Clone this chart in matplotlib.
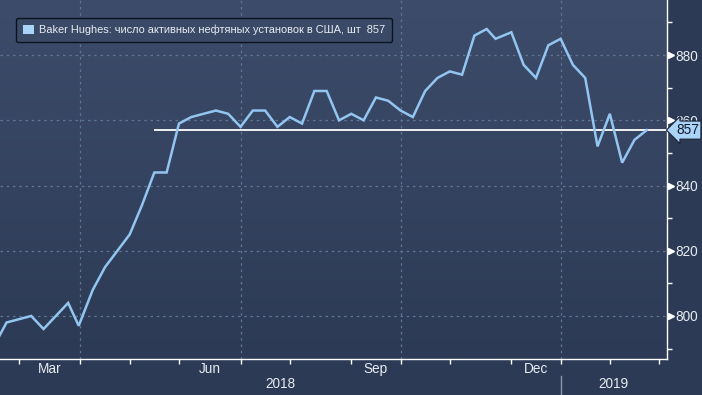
import matplotlib
matplotlib.use("Agg")
import matplotlib.pyplot as plt
import matplotlib.dates as mdates
import matplotlib.transforms as mtrans
from matplotlib.patches import Patch
from matplotlib.colors import LinearSegmentedColormap
from matplotlib import font_manager
import numpy as np
import pandas as pd

# ---- data ----
dates = ["2018-02-09", "2018-02-16", "2018-02-23", "2018-03-02", "2018-03-09", "2018-03-16",
         "2018-03-23", "2018-03-29", "2018-04-06", "2018-04-13", "2018-04-20", "2018-04-27",
         "2018-05-04", "2018-05-11", "2018-05-18", "2018-05-25", "2018-06-01", "2018-06-08",
         "2018-06-15", "2018-06-22", "2018-06-29", "2018-07-06", "2018-07-13", "2018-07-20",
         "2018-07-27", "2018-08-03", "2018-08-10", "2018-08-17", "2018-08-24", "2018-08-31",
         "2018-09-07", "2018-09-14", "2018-09-21", "2018-09-28", "2018-10-05", "2018-10-12",
         "2018-10-19", "2018-10-26", "2018-11-02", "2018-11-09", "2018-11-16", "2018-11-21",
         "2018-11-30", "2018-12-07", "2018-12-14", "2018-12-21", "2018-12-28", "2019-01-04",
         "2019-01-11", "2019-01-18", "2019-01-25", "2019-02-01", "2019-02-08", "2019-02-15"]
rigs = [791, 798, 799, 800, 796, 800,
        804, 797, 808, 815, 820, 825,
        834, 844, 844, 859, 861, 862,
        863, 862, 858, 863, 863, 858,
        861, 859, 869, 869, 860, 862,
        860, 867, 866, 863, 861, 869,
        873, 875, 874, 886, 888, 885,
        887, 877, 873, 883, 885, 877,
        873, 852, 862, 847, 854, 857]
series_label = "Baker Hughes: число активных нефтяных установок в США, шт"
ref_line_start = "2018-05-11"
y_major = [800, 820, 840, 860, 880]
month_labels_shown = {3: "Mar", 6: "Jun", 9: "Sep", 12: "Dec"}

# ---- style ----
names = {f.name for f in font_manager.fontManager.ttflist}
narrow = "Liberation Sans Narrow" if "Liberation Sans Narrow" in names else "Liberation Sans"
plt.rcParams["font.family"] = [narrow, "DejaVu Sans"]

BG_OUT = "#2c3a55"
BG_TOP = "#3d4c6a"
BG_BOT = "#2c3a55"
LINE = "#92c5f0"
TXT = "#e8ecf2"
GRID = "#5f7594"
FS = 9.8

W, H = 702, 395
fig = plt.figure(figsize=(W / 100, H / 100), dpi=100, facecolor=BG_OUT)
ax_right_px, ax_bottom_px = 667, 359
ax = fig.add_axes([0, 1 - ax_bottom_px / H, ax_right_px / W, ax_bottom_px / H])
ax.set_facecolor(BG_BOT)

x = mdates.date2num(pd.to_datetime(dates))
xmin = mdates.date2num(pd.Timestamp("2018-02-12 06:00"))
xmax = mdates.date2num(pd.Timestamp("2019-02-26 12:00"))
ax.set_xlim(xmin, xmax)
ax.set_ylim(786.8, 896.9)

# gradient background
grad = np.linspace(0, 1, 256).reshape(-1, 1)
cmap = LinearSegmentedColormap.from_list("bg", [BG_BOT, BG_TOP])
ax.imshow(grad, aspect="auto", cmap=cmap, origin="lower",
          extent=[0, 1, 0, 1], transform=ax.transAxes, zorder=0)

# month boundary ticks: last Friday before each month start
month_starts = pd.date_range("2018-03-01", "2019-03-01", freq="MS")
def last_friday_before(d):
    d = d - pd.Timedelta(days=1)
    while d.weekday() != 4:
        d -= pd.Timedelta(days=1)
    return d
tick_dates = [last_friday_before(m) for m in month_starts]
tick_x = mdates.date2num(pd.to_datetime(tick_dates))

# grid
for yv in y_major:
    ax.axhline(yv, color=GRID, lw=0.9, ls=(0, (2, 3)), zorder=1)
for m, tx in zip(month_starts, tick_x):
    if m.month in (1, 4, 7, 10):
        ax.axvline(tx, color=GRID, lw=0.9, ls=(0, (2, 3)), zorder=1)

# reference line at last value
ax.hlines(rigs[-1], mdates.date2num(pd.Timestamp(ref_line_start)), xmax,
          color="white", lw=1.3, zorder=3)

# data line
ax.plot(x, rigs, color=LINE, lw=1.8, zorder=4, solid_joinstyle="miter")

# spines
for s in ["top", "left"]:
    ax.spines[s].set_visible(False)
for s in ["right", "bottom"]:
    ax.spines[s].set_color("white")
    ax.spines[s].set_linewidth(1.0)

# y axis on right
ax.yaxis.tick_right()
ax.set_yticks(y_major)
ax.set_yticks(np.arange(790, 900, 10), minor=True)
ax.tick_params(axis="y", which="major", length=0, pad=6.3, labelsize=FS, labelcolor=TXT)
ax.tick_params(axis="y", which="minor", length=3.5, width=1, color="white", direction="out")
# triangle markers for major ticks
tr_y = mtrans.blended_transform_factory(ax.transAxes, ax.transData)
ax.plot([1.0065] * len(y_major), y_major, marker=">", ms=5, color="white", ls="none",
        transform=tr_y, clip_on=False, zorder=5)

# x axis ticks
ax.set_xticks(tick_x)
ax.set_xticklabels([])
ax.tick_params(axis="x", which="major", length=3.5, width=1, color="white", direction="out")

tr_x = mtrans.blended_transform_factory(ax.transData, ax.transAxes)
bounds = list(tick_x)
for i, m in enumerate(month_starts[:-1]):
    if m.month in month_labels_shown:
        mid = (bounds[i] + bounds[i + 1]) / 2
        ax.text(mid, -10 / ax_bottom_px, month_labels_shown[m.month], transform=tr_x,
                ha="center", va="center", fontsize=FS, color=TXT)
jan_x = tick_x[list(month_starts).index(pd.Timestamp("2019-01-01"))]
ax.text((xmin + jan_x) / 2, -25 / ax_bottom_px, "2018", transform=tr_x,
        ha="center", va="center", fontsize=FS, color=TXT)
ax.text((jan_x + xmax) / 2, -25 / ax_bottom_px, "2019", transform=tr_x,
        ha="center", va="center", fontsize=FS, color=TXT)
ax.plot([jan_x, jan_x], [-17 / ax_bottom_px, -36 / ax_bottom_px], transform=tr_x,
        color="#8a97ab", lw=1, clip_on=False)

# last value label box
ax.annotate(f"{rigs[-1]}", xy=(1.0, rigs[-1]), xycoords=tr_y,
            xytext=(1.0135, rigs[-1]), textcoords=tr_y,
            ha="left", va="center", fontsize=FS, color="#10182a",
            bbox=dict(boxstyle="larrow,pad=0.15", fc="#a9d3f7", ec="#1a2233", lw=0.8),
            annotation_clip=False, zorder=6)

# legend
leg = ax.legend(handles=[Patch(facecolor="#a9d3f7", edgecolor="none")],
                labels=[f"{series_label}  {rigs[-1]}"],
                loc="upper left", bbox_to_anchor=(16 / ax_right_px, 1 - 18 / ax_bottom_px),
                fontsize=7.9, frameon=True, fancybox=True, handlelength=1.0, handleheight=1.0,
                handletextpad=0.5, borderpad=0.6, borderaxespad=0)
frame = leg.get_frame()
frame.set_facecolor("#3a4966")
frame.set_edgecolor("#0c1220")
frame.set_alpha(1)
frame.set_linewidth(1)
for t in leg.get_texts():
    t.set_color(TXT)

fig.savefig("out.png", dpi=100, facecolor=BG_OUT)
